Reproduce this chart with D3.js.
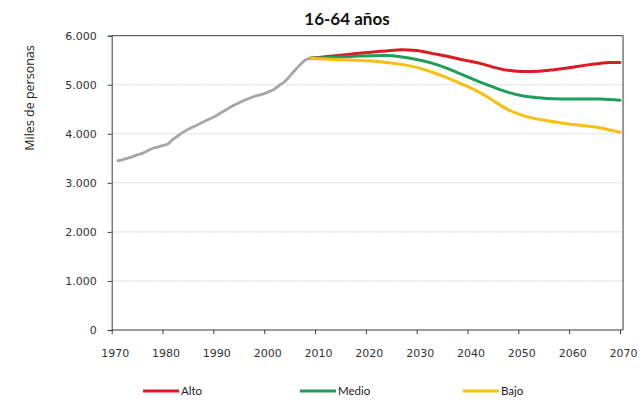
<!DOCTYPE html>
<html><head><meta charset="utf-8">
<script src="https://cdn.jsdelivr.net/npm/d3@7"></script>
<style>body{margin:0;background:#fff}svg{display:block}</style>
</head><body>
<svg id="c" width="644" height="403"></svg>
<script>
const title = "16-64 años";
const yLabel = "Miles de personas";
const yTicks = [0, 1000, 2000, 3000, 4000, 5000, 6000];
const xTicks = [1970, 1980, 1990, 2000, 2010, 2020, 2030, 2040, 2050, 2060, 2070];

const histYears = [1971,1972,1973,1974,1975,1976,1977,1978,1979,1980,1981,1982,1983,1984,1985,1986,1987,1988,1989,1990,1991,1992,1993,1994,1995,1996,1997,1998,1999,2000,2001,2002,2003,2004,2005,2006,2007,2008,2009];
const histValues = [3450,3470,3500,3530,3570,3600,3650,3700,3730,3760,3790,3880,3960,4030,4090,4140,4190,4240,4290,4340,4400,4460,4520,4580,4630,4680,4720,4760,4790,4820,4860,4910,4990,5060,5170,5290,5400,5500,5540];

const projYears = [2009,2012,2015,2018,2021,2024,2027,2030,2033,2036,2039,2042,2045,2048,2051,2054,2057,2060,2063,2066,2068,2070];
const alto  = [5540,5570,5600,5635,5665,5690,5715,5700,5640,5580,5510,5450,5360,5295,5268,5275,5305,5345,5395,5435,5455,5455];
const medio = [5540,5553,5568,5583,5593,5595,5568,5515,5440,5335,5205,5075,4955,4845,4770,4737,4716,4710,4709,4709,4700,4682];
const bajo  = [5540,5525,5510,5497,5483,5455,5415,5355,5260,5140,5010,4865,4680,4490,4370,4295,4247,4200,4165,4125,4078,4030];

const seriesNames = ["Alto", "Medio", "Bajo"];
const seriesColors = ["#dc1c24", "#1f9e5a", "#f5c012"];
const histColor = "#a6a6a6";

const svg = d3.select("#c");
const x = d3.scaleLinear().domain([1970, 2070]).range([111.7, 620]);
const y = d3.scaleLinear().domain([0, 6000]).range([330, 35.7]);
const xRight = x(2070.6);

// gridlines
svg.append("g").selectAll("line").data(yTicks.filter(d => d > 0 && d < 6000)).join("line")
  .attr("x1", x(1970)).attr("x2", xRight)
  .attr("y1", d => y(d)).attr("y2", d => y(d))
  .attr("stroke", "#d4d4d4").attr("stroke-width", 1).attr("stroke-dasharray", "2,1");

// border top/right
svg.append("path")
  .attr("d", `M${x(1970)},${y(6000)}H${xRight}V${y(0)}`)
  .attr("fill", "none").attr("stroke", "#3a3a3a").attr("stroke-width", 1);

// y axis
const yAxis = svg.append("g").attr("transform", `translate(${x(1970)},0)`)
  .call(d3.axisLeft(y).tickValues(yTicks).tickSize(4).tickPadding(11)
    .tickFormat(d => d3.format(",")(d).replace(/,/g, ".")));
yAxis.select(".domain").attr("stroke", "#3a3a3a");
yAxis.selectAll(".tick line").attr("stroke", "#3a3a3a");
yAxis.selectAll("text").attr("font-family", "DejaVu Sans").attr("font-size", 11).attr("fill", "#333");

// x axis
const xAxis = svg.append("g").attr("transform", `translate(0,${y(0)})`)
  .call(d3.axisBottom(x).tickValues(xTicks).tickSize(4).tickPadding(15).tickFormat(d3.format("d")));
xAxis.select(".domain").attr("d", `M${x(1970)},0H${xRight}`).attr("stroke", "#3a3a3a");
xAxis.selectAll(".tick line").attr("stroke", "#3a3a3a");
xAxis.selectAll("text").attr("font-family", "DejaVu Sans").attr("font-size", 11).attr("fill", "#333").attr("dx", 3);

const line = d3.line().x(d => x(d[0])).y(d => y(d[1])).curve(d3.curveMonotoneX);

svg.append("path").datum(histYears.map((yr, i) => [yr, histValues[i]]))
  .attr("d", line).attr("fill", "none").attr("stroke", histColor).attr("stroke-width", 2.8)
  .attr("stroke-linejoin", "round");

const seriesData = [alto, medio, bajo];
[0, 1, 2].forEach(i => {
  svg.append("path").datum(projYears.map((yr, j) => [yr, seriesData[i][j]]))
    .attr("d", line).attr("fill", "none").attr("stroke", seriesColors[i]).attr("stroke-width", 3)
    .attr("stroke-linejoin", "round").attr("stroke-linecap", "round");
});

// title
svg.append("text").attr("x", 347).attr("y", 25).attr("text-anchor", "middle")
  .attr("font-family", "Lato").attr("font-weight", "bold").attr("font-size", 17).attr("fill", "#111")
  .text(title);

// y label
svg.append("text").attr("transform", "translate(34,98) rotate(-90)").attr("text-anchor", "middle")
  .attr("font-family", "Open Sans").attr("font-size", 12.5).attr("fill", "#222")
  .text(yLabel);

// legend
const legX = [143, 300, 463];
const leg = svg.append("g").selectAll("g").data(seriesNames).join("g")
  .attr("transform", (d, i) => `translate(${legX[i]},391)`);
leg.append("line").attr("x1", 0).attr("x2", 36).attr("y1", 0).attr("y2", 0)
  .attr("stroke", (d, i) => seriesColors[i]).attr("stroke-width", 3);
leg.append("text").attr("x", 38).attr("y", 4)
  .attr("font-family", "Lato").attr("font-size", 11.5).attr("fill", "#222").text(d => d);
</script>
</body></html>
